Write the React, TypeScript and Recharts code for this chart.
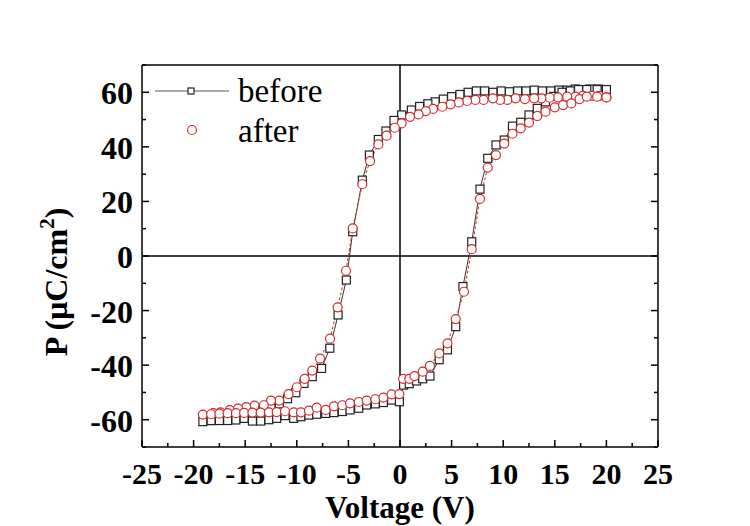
import React from 'react';
import { LineChart, Line, XAxis, YAxis, ReferenceLine, Legend } from 'recharts';

// P-V loop. Each series runs 20 V -> -19 V (upper branch), then back to 20 V (lower branch).
const beforeVoltage = [
  20.0, 19.2, 18.4, 17.7, 17.0, 16.2, 15.4, 14.6, 13.8, 13.0, 12.2, 11.4, 10.6, 9.8, 9.0, 8.2, 7.4, 6.6, 5.8, 5.0,
  4.2, 3.4, 2.7, 1.9, 1.1, 0.16, -0.58, -1.36, -2.1, -2.97, -3.65, -4.58, -5.2, -6.0, -6.8, -7.6, -8.5, -9.3, -10.1,
  -10.9, -11.7, -12.5, -13.3, -14.1, -14.9, -15.7, -16.5, -17.4, -18.2, -19.1,
  -18.3, -17.5, -16.7, -15.9, -15.1, -14.3, -13.5, -12.7, -11.95, -11.14, -10.3, -9.6, -8.82, -8.07, -7.2, -6.4,
  -5.59, -4.84, -4.0, -3.23, -2.39, -1.61, -0.81, -0.06, 0.35, 0.9, 1.6, 2.2, 2.9, 3.8, 4.6, 5.4, 6.1, 6.95, 7.75,
  8.5, 9.3, 10.1, 10.9, 11.7, 12.5, 13.3, 14.1, 14.9, 15.7, 16.5, 17.3, 18.1, 19.1, 20.0,
];
const beforeP = [
  60.8, 61.2, 61.2, 61.0, 61.2, 60.8, 60.8, 60.5, 60.5, 60.8, 60.5, 60.5, 60.2, 60.5, 60.0, 60.5, 60.5, 60.0, 59.2, 58.4,
  57.5, 56.5, 55.8, 54.8, 53.5, 51.7, 49.7, 45.8, 42.7, 37.0, 27.8, 8.9, -8.8, -21.6, -33.8, -41.2, -44.2, -46.7, -50.1,
  -52.3, -54.2, -55.8, -57.0, -57.7, -58.3, -59.0, -59.5, -60.0, -60.3, -60.7,
  -60.3, -60.3, -60.3, -60.1, -59.5, -60.5, -60.5, -60.0, -59.5, -58.5, -59.5, -58.9, -58.3, -58.0, -57.7, -57.4,
  -57.0, -56.4, -55.8, -54.6, -54.2, -53.7, -52.8, -53.4, -47.3, -46.8, -45.8, -45.0, -44.0, -38.0, -34.4, -25.9, -11.2, 5.2, 24.5,
  35.8, 40.7, 42.5, 47.6, 49.0, 51.7, 54.1, 56.5, 58.5, 60.0, 60.5, 61.0, 61.0, 61.0, 61.0,
];

const afterVoltage = [
  20.0, 19.3, 18.6, 17.7, 17.0, 16.2, 15.3, 14.5, 13.7, 13.0, 12.1, 11.2, 10.4, 9.7, 9.0, 8.1, 7.3, 6.5, 5.7, 4.9,
  4.1, 3.2, 2.5, 1.8, 0.97, 0.16, -0.5, -1.3, -2.1, -2.9, -3.65, -4.58, -5.23, -6.04, -6.78, -7.75, -8.5, -9.24, -10.0,
  -10.8, -11.7, -12.5, -13.2, -14.1, -14.9, -15.7, -16.5, -17.4, -18.1, -19.1,
  -18.3, -17.5, -16.7, -15.9, -15.1, -14.3, -13.5, -12.7, -11.95, -11.14, -10.3, -9.6, -8.82, -8.07, -7.2, -6.4,
  -5.59, -4.84, -4.0, -3.23, -2.39, -1.61, -0.81, -0.06, 0.3, 0.9, 1.4, 2.2, 2.9, 3.8, 4.6, 5.4, 6.2, 6.95, 7.75,
  8.5, 9.3, 10.1, 10.9, 11.7, 12.5, 13.3, 14.1, 15.0, 15.8, 16.6, 17.4, 18.1, 19.1, 20.0,
];
const afterP = [
  58.1, 58.7, 58.7, 58.7, 58.4, 58.4, 58.1, 58.0, 57.8, 57.8, 57.5, 57.8, 57.2, 57.2, 57.8, 57.2, 57.2, 56.8, 56.3, 55.6,
  54.7, 53.9, 53.1, 51.9, 51.0, 48.6, 47.0, 44.1, 40.9, 34.8, 26.3, 10.1, -5.4, -18.8, -30.3, -37.6, -42.0, -45.0, -48.1,
  -50.6, -53.0, -53.0, -54.7, -54.8, -55.4, -55.9, -56.5, -57.3, -57.6, -58.1,
  -58.0, -57.8, -57.6, -57.6, -57.5, -57.4, -57.4, -57.3, -57.2, -56.9, -57.3, -57.3, -56.7, -55.6, -56.4, -55.1,
  -54.7, -54.0, -53.5, -53.0, -52.5, -51.9, -50.7, -50.6, -45.0, -45.0, -44.0, -42.4, -40.3, -35.7, -32.0, -23.1, -13.1, 2.5, 20.9,
  32.4, 37.0, 41.2, 44.8, 46.8, 48.9, 51.3, 52.9, 54.5, 55.3, 55.9, 57.5, 58.4, 58.4, 58.1,
];

const xTicks = [-25, -22.5, -20, -17.5, -15, -12.5, -10, -7.5, -5, -2.5, 0, 2.5, 5, 7.5, 10, 12.5, 15, 17.5, 20, 22.5, 25];
const yTicks = [-70, -60, -50, -40, -30, -20, -10, 0, 10, 20, 30, 40, 50, 60, 70];

const beforeData = beforeVoltage.map((v, i) => ({ v, p: beforeP[i] }));
const afterData = afterVoltage.map((v, i) => ({ v, p: afterP[i] }));

const serif = '"Liberation Serif", "Times New Roman", serif';
const red = '#d22b2b';
const dark = '#222';

const isMajorX = (v: number) => v % 5 === 0;
const isMajorY = (v: number) => v % 20 === 0 && Math.abs(v) <= 60;

// ticks point inward on all four sides, like the Origin plot
const BottomTick = ({ x, y, payload }: any) => {
  const major = isMajorX(payload.value);
  return (
    <g>
      <line x1={x} y1={y} x2={x} y2={y - (major ? 7 : 4)} stroke="#000" strokeWidth={1.5} />
      {major && (
        <text x={x} y={y + 37} textAnchor="middle" fontFamily={serif} fontWeight="bold" fontSize={30} fill="#000">
          {payload.value}
        </text>
      )}
    </g>
  );
};

const TopTick = ({ x, y, payload }: any) => (
  <line x1={x} y1={y} x2={x} y2={y + (isMajorX(payload.value) ? 7 : 4)} stroke="#000" strokeWidth={1.5} />
);

const LeftTick = ({ x, y, payload }: any) => {
  const major = isMajorY(payload.value);
  return (
    <g>
      <line x1={x} y1={y} x2={x + (major ? 7 : 4)} y2={y} stroke="#000" strokeWidth={1.5} />
      {major && (
        <text x={x - 9} y={y + 12} textAnchor="end" fontFamily={serif} fontWeight="bold" fontSize={32} fill="#000">
          {payload.value}
        </text>
      )}
    </g>
  );
};

const RightTick = ({ x, y, payload }: any) => (
  <line x1={x} y1={y} x2={x - (isMajorY(payload.value) ? 7 : 4)} y2={y} stroke="#000" strokeWidth={1.5} />
);

const SquareDot = ({ cx, cy, index }: any) => (
  <rect key={index} x={cx - 4} y={cy - 4} width={8} height={8} fill="#fff" stroke={dark} strokeWidth={1.2} />
);

const CircleDot = ({ cx, cy, index }: any) => (
  <circle key={index} cx={cx} cy={cy} r={4.5} fill="#fff" stroke={red} strokeWidth={1.2} />
);

const renderLegend = () => (
  <svg width={220} height={90}>
    <line x1={5} y1={21} x2={79} y2={21} stroke="#555" strokeWidth={1.2} />
    <rect x={38} y={18} width={6} height={6} fill="#fff" stroke={dark} strokeWidth={1.2} />
    <text x={88} y={32} fontFamily={serif} fontSize={33} fill="#000">before</text>
    <circle cx={42} cy={60} r={4.5} fill="#fff" stroke={red} strokeWidth={1.2} />
    <text x={88} y={72} fontFamily={serif} fontSize={33} fill="#000">after</text>
  </svg>
);

const yTitle = () => (
  <text
    x={0}
    y={0}
    transform="translate(67,282) rotate(-90)"
    textAnchor="middle"
    fontFamily={serif}
    fontWeight="bold"
    fontSize={32}
    fill="#000"
  >
    <tspan>P (μC/cm</tspan>
    <tspan dy={-13} fontSize={21}>2</tspan>
    <tspan dy={13}>)</tspan>
  </text>
);

const xTitle = () => (
  <text x={400} y={518} textAnchor="middle" fontFamily={serif} fontWeight="bold" fontSize={31} fill="#000">
    Voltage (V)
  </text>
);

export default function App() {
  return (
    <div style={{ position: 'absolute', left: 0, top: 0, width: 750, height: 526, background: '#fff' }}>
      <LineChart width={750} height={526} margin={{ top: 63, right: 90, bottom: 49, left: 82 }}>
        <XAxis
          type="number"
          dataKey="v"
          domain={[-25, 25]}
          ticks={xTicks}
          interval={0}
          height={30}
          tickSize={0}
          tickMargin={0}
          tickLine={false}
          axisLine={{ stroke: '#000', strokeWidth: 1.5 }}
          tick={<BottomTick />}
          label={{ content: xTitle }}
          allowDataOverflow
        />
        <XAxis
          xAxisId="top"
          orientation="top"
          type="number"
          domain={[-25, 25]}
          ticks={xTicks}
          interval={0}
          height={2}
          tickSize={0}
          tickMargin={0}
          tickLine={false}
          axisLine={{ stroke: '#000', strokeWidth: 1.5 }}
          tick={<TopTick />}
          allowDataOverflow
        />
        <YAxis
          type="number"
          dataKey="p"
          domain={[-70, 70]}
          ticks={yTicks}
          interval={0}
          width={60}
          tickSize={0}
          tickMargin={0}
          tickLine={false}
          axisLine={{ stroke: '#000', strokeWidth: 1.5 }}
          tick={<LeftTick />}
          label={{ content: yTitle }}
          allowDataOverflow
        />
        <YAxis
          yAxisId="right"
          orientation="right"
          type="number"
          domain={[-70, 70]}
          ticks={yTicks}
          interval={0}
          width={2}
          tickSize={0}
          tickMargin={0}
          tickLine={false}
          axisLine={{ stroke: '#000', strokeWidth: 1.5 }}
          tick={<RightTick />}
          allowDataOverflow
        />
        <ReferenceLine x={0} stroke="#000" strokeWidth={1.5} />
        <ReferenceLine y={0} stroke="#000" strokeWidth={1.5} />
        <Line
          data={beforeData}
          dataKey="p"
          name="before"
          stroke="#333"
          strokeWidth={1}
          dot={<SquareDot />}
          isAnimationActive={false}
        />
        <Line
          data={afterData}
          dataKey="p"
          name="after"
          stroke={red}
          strokeWidth={1}
          strokeDasharray="3 2"
          dot={<CircleDot />}
          isAnimationActive={false}
        />
        <Legend
          layout="horizontal"
          verticalAlign="middle"
          align="center"
          content={renderLegend}
          wrapperStyle={{ left: 150, top: 70, width: 220, height: 90 }}
        />
      </LineChart>
    </div>
  );
}
